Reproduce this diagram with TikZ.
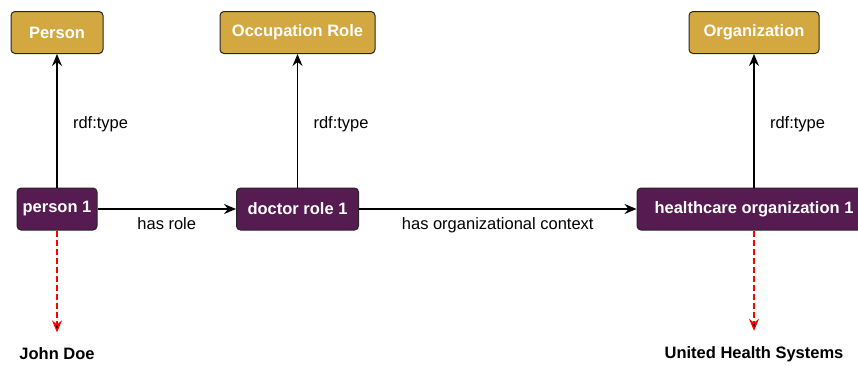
\documentclass[tikz,border=0pt]{standalone}
\usepackage{fontspec}
\setmainfont{Liberation Sans}
\usetikzlibrary{arrows.meta}
\definecolor{classgold}{HTML}{D3A840}
\definecolor{instpurple}{HTML}{561B50}

\begin{document}
\begin{tikzpicture}[x=1pt, y=-1pt,
	>={Stealth[length=12pt,width=10pt,inset=4pt]},
	font=\fontsize{16.5}{19}\selectfont,
	cls/.style={shape=rectangle, rounded corners=4pt, draw=black!85, line width=1pt,
		fill=classgold, text=white, minimum height=42pt,
		font=\fontsize{16.5}{19}\selectfont\bfseries},
	ind/.style={cls, fill=instpurple},
	lit/.style={font=\fontsize{16.5}{19}\selectfont\bfseries},
	rel/.style={->, line width=1.4pt},
	val/.style={->, line width=1.3pt, draw=red, dash pattern=on 6pt off 3pt, shorten >=12pt}]
	
	\useasboundingbox (0, 0) rectangle (858, 365);
	
	\node[cls, minimum width=92pt]  (a) at (57, 32.5)    {Person};
	\node[cls, minimum width=155pt] (b) at (297.5, 32.5) {Occupation Role};
	\node[cls, minimum width=130pt] (c) at (754, 32.5)   {Organization};
	
	\node[ind, minimum width=80pt]  (d) at (57, 209)     {person 1};
	\node[ind, minimum width=122pt] (e) at (297.5, 209)  {doctor role 1};
	\node[ind, minimum width=234pt] (f) at (754, 209)    {healthcare organization 1};
	
	\node[lit] (g) at (57, 354)  {John Doe};
	\node[lit] (h) at (754, 354) {United Health Systems};
	
    \path[rel] (d) edge node[right=12pt, yshift=-3pt] {rdf:type} (a);
    \path[rel] (e) edge node[right=12pt, yshift=-3pt] {rdf:type} (b);
    \path[rel] (f) edge node[right=12pt, yshift=-3pt] {rdf:type} (c);
    
    \path[rel] (d) edge node[below=5pt] {has role} (e);
    \path[rel] (e) edge node[below=5pt] {has organizational context} (f);
    
    \path[val] (d) edge (g);
    \path[val] (f) edge (h);
    
	\end{tikzpicture}
\end{document}
